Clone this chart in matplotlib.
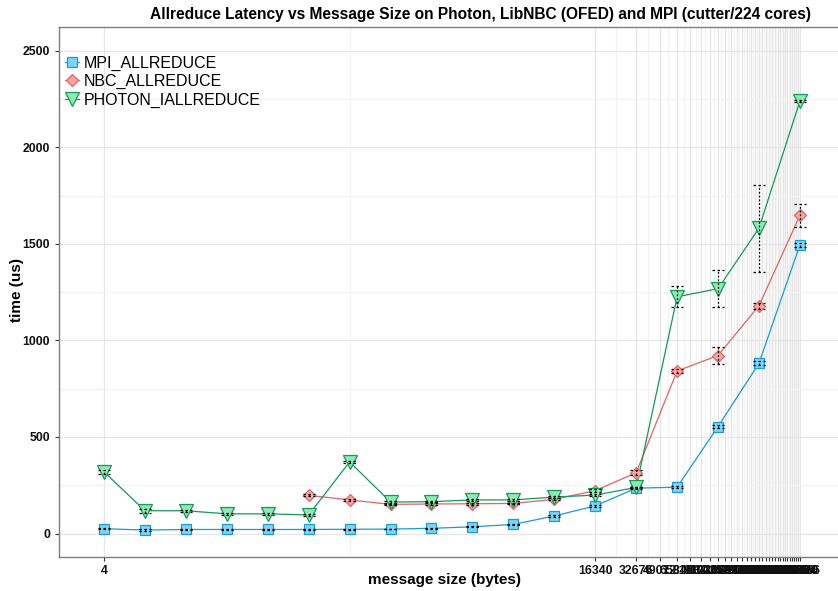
import matplotlib
matplotlib.use('Agg')
import matplotlib.pyplot as plt
from matplotlib.lines import Line2D
from matplotlib.ticker import NullFormatter
import numpy as np

plt.rcParams['font.family'] = ['Liberation Sans', 'DejaVu Sans']

# message sizes in bytes (powers of two from 4)
sizes = [4, 8, 16, 32, 64, 128, 256, 512, 1024, 2048, 4096, 8192,
         16384, 32768, 65536, 131072, 262144, 524288]

# mean latency (us) and half-width of the error bars
mpi_t = [25, 18, 21, 21, 21, 21, 22, 23, 27, 35, 47, 91, 143, 235, 240, 554, 882, 1495]
mpi_e = [3, 3, 2, 2, 2, 2, 2, 2, 2, 2, 3, 3, 4, 4, 4, 10, 10, 10]

# NBC starts at 128 bytes
nbc_x = sizes[5:]
nbc_t = [198, 174, 151, 153, 154, 156, 177, 222, 315, 842, 922, 1180, 1648]
nbc_e = [5, 4, 4, 4, 4, 4, 5, 8, 12, 10, 44, 15, 60]

photon_t = [320, 118, 118, 102, 102, 96, 371, 163, 165, 174, 174, 189, 199, 239,
            1226, 1268, 1582, 2240]
photon_e = [10, 10, 5, 5, 5, 5, 5, 4, 4, 4, 4, 4, 4, 4, 54, 97, 225, 5]

# axis breaks every 16336 bytes starting at 4
xbreaks = [4, 16340, 32676, 49012, 65348, 81684, 98020, 114356, 130692, 147028,
           163364, 179700, 196036, 212372, 228708, 245044, 261380, 277716, 294052,
           310388, 326724, 343060, 359396, 375732, 392068, 408404, 424740, 441076,
           457412, 473748, 490084, 506420, 522756]
ybreaks = [0, 500, 1000, 1500, 2000, 2500]

series = [
    ('MPI_ALLREDUCE', sizes, mpi_t, mpi_e, 's', 7, '#1a9bd4', '#80d4f1'),
    ('NBC_ALLREDUCE', nbc_x, nbc_t, nbc_e, 'D', 6.6, '#e06464', '#f5a6a6'),
    ('PHOTON_IALLREDUCE', sizes, photon_t, photon_e, 'v', 10, '#16985a', '#8fe9b4'),
]

W, H = 838, 591
fig = plt.figure(figsize=(W / 100, H / 100), dpi=100)
ax = fig.add_axes([58.5 / W, 1 - 556.7 / H, 1 - 58.5 / W, (556.7 - 26.5) / H])

ax.set_xscale('log', base=2)
ax.set_xlim(2 ** 0.889, 2 ** 19.93)
ax.set_ylim(-120, 2626)

# gridlines: majors on breaks, minors half-way between them
lx = np.log2(xbreaks)
xminor = 2 ** ((lx[:-1] + lx[1:]) / 2)
ax.set_xticks(xbreaks)
ax.set_xticklabels([str(b) for b in xbreaks])
ax.set_xticks(xminor, minor=True)
ax.xaxis.set_minor_formatter(NullFormatter())
ax.set_yticks(ybreaks)
ax.set_yticks([250, 750, 1250, 1750, 2250], minor=True)
ax.yaxis.set_minor_formatter(NullFormatter())
ax.grid(which='major', color='#e6e6e6', lw=0.9)
ax.grid(which='minor', color='#f3f3f3', lw=0.9)
ax.set_axisbelow(True)

ax.tick_params(which='major', length=3, width=0.8, color='#333333', labelsize=8.8,
               labelcolor='#111111', pad=3)
ax.tick_params(which='minor', length=0)
for lab in ax.get_xticklabels() + ax.get_yticklabels():
    lab.set_fontweight('bold')

for side in ['left', 'bottom', 'top']:
    ax.spines[side].set_color('#7f7f7f')
    ax.spines[side].set_linewidth(1.0)
ax.spines['right'].set_visible(False)

handles = []
for name, xs, ys, es, mk, ms, edge, fill in series:
    ax.plot(xs, ys, color=edge, lw=0.9, zorder=2)
    ax.plot(xs, ys, ls='none', marker=mk, ms=ms, mfc=fill, mec=edge, mew=0.9, zorder=3)
    handles.append(Line2D([], [], color=edge, lw=0.9, marker=mk, ms=ms,
                          mfc=fill, mec=edge, mew=0.9))

# error bars: dotted stems with dashed caps
for name, xs, ys, es, mk, ms, edge, fill in series:
    xs = np.array(xs, dtype=float)
    lo = np.array(ys) - np.array(es)
    hi = np.array(ys) + np.array(es)
    ax.vlines(xs, lo, hi, colors='black', linestyles=(0, (1.5, 1.5)), lw=0.9, zorder=4)
    for yy in (lo, hi):
        ax.hlines(yy, xs * 2 ** -0.15, xs * 2 ** 0.15, colors='black',
                  linestyles=(0, (2, 2)), lw=0.9, zorder=4)

ax.legend(handles, [s[0] for s in series], loc='upper left',
          bbox_to_anchor=(3 / (W - 58.5), 1 - 26 / (556.7 - 26.5)), frameon=False,
          fontsize=11.5, handlelength=0.9, handletextpad=0.3, labelspacing=0.2,
          borderaxespad=0.0, borderpad=0.2)

fig.text(444 / W, 1 - 580 / H, 'message size (bytes)', fontsize=11, fontweight='bold',
         ha='center', va='center')
fig.text(17 / W, 1 - 290 / H, 'time (us)', fontsize=11, fontweight='bold',
         ha='center', va='center', rotation=90)
fig.text(480 / W, 1 - 14 / H,
         'Allreduce Latency vs Message Size on Photon, LibNBC (OFED) and MPI (cutter/224 cores)',
         fontsize=11.2, fontweight='bold', ha='center', va='center')

fig.savefig('out.png', dpi=100)
